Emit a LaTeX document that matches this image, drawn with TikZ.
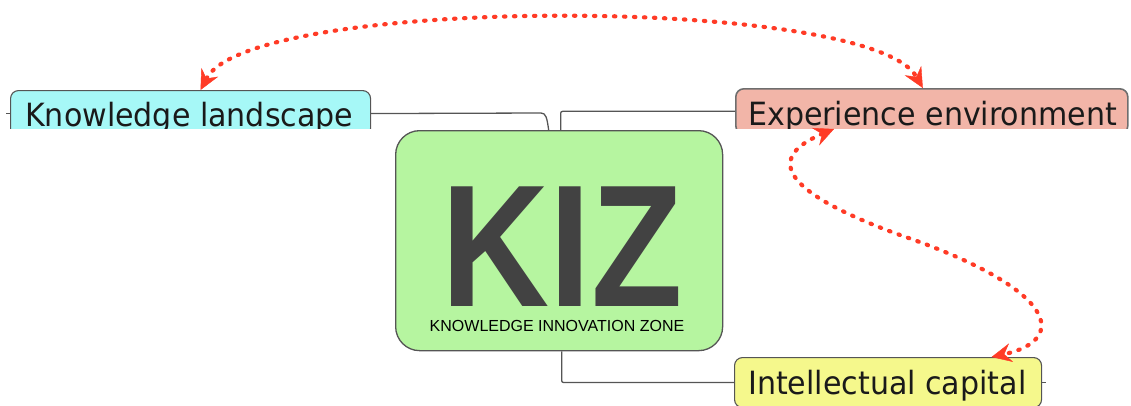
\documentclass[tikz,border=0pt]{standalone}
\usepackage{fontspec}
\usepackage{graphicx}
\setmainfont{DejaVu Sans}
\newfontfamily\arialfont{Liberation Sans}
\usetikzlibrary{arrows.meta}

\definecolor{landfill}{HTML}{A6F8F7}
\definecolor{expfill}{HTML}{F2B5A8}
\definecolor{capfill}{HTML}{F5F88C}
\definecolor{kizfill}{HTML}{B6F5A0}
\definecolor{edge}{HTML}{555555}
\definecolor{kizgray}{HTML}{424242}
\definecolor{linkred}{HTML}{FF3B26}
\definecolor{labelink}{HTML}{1A1A1A}

\tikzset{
  topic/.style={draw=edge, line width=1.1pt, rounded corners=8pt, inner sep=0pt},
  topiclabel/.style={anchor=base west, inner sep=0pt, text=labelink,
    font=\fontsize{32}{32}\selectfont},
  conn/.style={draw=edge, line width=1.3pt},
  rel/.style={draw=linkred, line width=4.2pt, line cap=round,
    dash pattern=on 1.4pt off 8.6pt,
    {Stealth[length=20pt,width=19pt,inset=7pt,line width=0.4pt]}-{Stealth[length=20pt,width=19pt,inset=7pt,line width=0.4pt]}},
}

\newcommand{\toplabel}[1]{\scalebox{0.94}[1]{#1}}

\begin{document}
\begin{tikzpicture}[x=1pt,y=-1pt]
\useasboundingbox (0,0) rectangle (1131,405);

% central topic
\node[draw=edge, line width=1.3pt, fill=kizfill, rounded corners=24pt,
      minimum width=327pt, minimum height=220pt, anchor=north west, inner sep=0pt]
      (kiz) at (395,130) {};
\node[anchor=base, inner sep=0pt, text=kizgray, text depth=0pt,
      font=\arialfont\bfseries\fontsize{174}{174}\selectfont]
      (kiztitle) at (562,306) {\scalebox{0.86}[1]{KIZ}};
\node[anchor=base, inner sep=0pt, text=black,
      font=\arialfont\fontsize{16}{16}\selectfont]
      (kizsub) at (557,331) {KNOWLEDGE INNOVATION ZONE};

% upper topics, cut off along their lower part
\begin{scope}
  \clip (0,0) rectangle (1131,128);
  \node[topic, fill=landfill, minimum width=360pt, minimum height=46pt,
        anchor=north west] (land) at (10,90) {};
  \node[topiclabel] (landtext) at (25,126) {\toplabel{Knowledge landscape}};
  \node[topic, fill=expfill, draw=edge!85!white, line width=1.6pt,
        minimum width=392pt, minimum height=45pt,
        anchor=north west] (exp) at (735,88) {};
  \node[topiclabel] (exptext) at (748,125) {\toplabel{Experience environment}};
\end{scope}

% lower topic
\node[topic, fill=capfill, minimum width=307pt, minimum height=50pt,
      anchor=north west] (cap) at (734,357) {};
\node[topiclabel] (captext) at (748,394) {\toplabel{Intellectual capital}};

% tree connectors
\draw[conn] (land.east) -- (541,113) .. controls (546,113) and (547,118) .. ([xshift=-10.5pt]kiz.north);
\draw[conn, rounded corners=2pt] ([xshift=1.5pt]kiz.north) |- (exp.west);
\draw[conn, rounded corners=2pt] ([xshift=2.5pt]kiz.south) |- (cap.west);
\draw[conn] (land.west) -- ++(-4,0);
\draw[conn] (cap.east) -- ++(4,0);

% relationship links
\coordinate (landtip) at ([xshift=10pt]land.north);
\coordinate (exptip) at ([xshift=-9pt]exp.north);
\coordinate (expbottip) at (834,129);
\coordinate (captip) at ([xshift=103.5pt]cap.north);
\draw[rel] (landtip) .. controls (250,-5) and (870,-5) .. (exptip);
\draw[rel] (expbottip) .. controls (760,160) and (790,195) .. (900,235)
                       .. controls (1060,290) and (1068,340) .. (captip);
\end{tikzpicture}
\end{document}
